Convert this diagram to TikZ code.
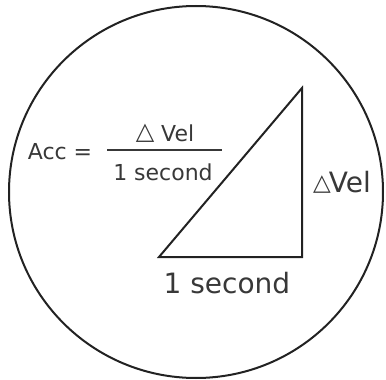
\documentclass[tikz,border=0pt]{standalone}
\usepackage{fontspec}
\setmainfont{DejaVu Sans}
\usepackage{tikz}
\usetikzlibrary{positioning,calc}
\definecolor{ink}{HTML}{222222}
\definecolor{txt}{HTML}{383838}
\newcommand{\dtri}[1]{\raisebox{1.2pt}{\fontsize{#1}{#1}\selectfont △}}

\begin{document}
\begin{tikzpicture}[x=0.5pt, y=-0.5pt,
  edge/.style={draw=ink, line width=1pt, line join=miter},
  big/.style={inner sep=0pt, text=txt, font=\fontsize{14}{16}\selectfont},
  small/.style={inner sep=0pt, text=txt, font=\fontsize{11}{13}\selectfont}
]
  \useasboundingbox (0,0) rectangle (386,380);
  % outer circle
  \draw[edge] (196,192) ellipse [x radius=93.5pt, y radius=93pt];
  % triangle
  \coordinate (bl) at (159,257);
  \coordinate (br) at (302,257);
  \coordinate (tr) at (302,88);
  \draw[edge] (bl) -- (br) -- (tr) -- cycle;
  \node[big] (base) at (227,283) {1 second};
  \node[big] (rise) at (342,182) {\dtri{11.5}\kern-1pt Vel};
  % formula
  \node[small] (acc) at (60,152) {Acc =};
  \coordinate (fl) at (107,150);
  \coordinate (fr) at (222,150);
  \draw[draw=txt, line width=0.6pt] (fl) -- (fr);
  \node[small] (num) at (165,133) {\dtri{12}\ Vel};
  \node[small] (den) at (163,172) {1 second};
\end{tikzpicture}
\end{document}
